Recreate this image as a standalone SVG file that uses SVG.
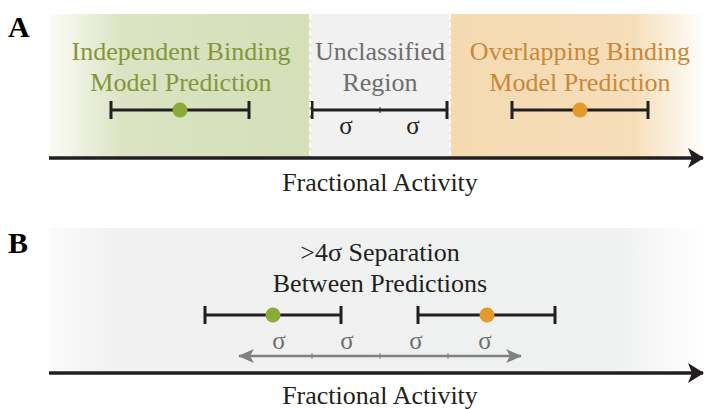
<svg xmlns="http://www.w3.org/2000/svg" width="705" height="409" viewBox="0 0 705 409">
<defs>
<linearGradient id="gGreen" x1="0" x2="1" y1="0" y2="0">
<stop offset="0" stop-color="#fbfcf6"/>
<stop offset="0.28" stop-color="#dbe3c3"/>
<stop offset="1" stop-color="#d5dfb8"/>
</linearGradient>
<linearGradient id="gOrange" x1="0" x2="1" y1="0" y2="0">
<stop offset="0" stop-color="#f5dab1"/>
<stop offset="0.72" stop-color="#f6deb9"/>
<stop offset="1" stop-color="#ffffff"/>
</linearGradient>
<linearGradient id="gGray" x1="0" x2="1" y1="0" y2="0">
<stop offset="0" stop-color="#fbfbfb"/>
<stop offset="0.1" stop-color="#f0f1f0"/>
<stop offset="0.86" stop-color="#eff1f0"/>
<stop offset="1" stop-color="#ffffff"/>
</linearGradient>
<marker id="axisHead" markerWidth="16" markerHeight="20" refX="15" refY="10" orient="auto" markerUnits="userSpaceOnUse">
<path d="M0,0 L16,10 L0,20 L4,10 Z" fill="#231f20"/>
</marker>
<marker id="grayHead" markerWidth="16" markerHeight="14" refX="15" refY="7" orient="auto-start-reverse" markerUnits="userSpaceOnUse">
<path d="M0,0 L16,7 L0,14 L4,7 Z" fill="#808080"/>
</marker>
</defs>
<style>
.lbl{font-family:"Liberation Serif","Times New Roman",serif;font-size:26px;text-anchor:middle}
.panel{font-family:"Liberation Serif","Times New Roman",serif;font-size:30px;font-weight:bold;fill:#000}
.bar{stroke:#231f20;stroke-width:3;fill:none}
.axis{stroke:#231f20;stroke-width:3.5;fill:none}
.sig{font-family:"Liberation Serif","Times New Roman",serif;font-size:25px;text-anchor:middle}
.divider{stroke:#ffffff;stroke-width:2;stroke-dasharray:5,3}
</style>

<g id="panelA">
<text class="panel" x="8" y="37">A</text>
<g id="regionIndependent">
<rect x="49" y="14" width="261" height="143" fill="url(#gGreen)"/>
<text class="lbl" x="181" y="60" fill="#85963a">Independent Binding</text>
<text class="lbl" x="181" y="91" fill="#85963a">Model Prediction</text>
<path class="bar" d="M111,110 H249 M111,101 V119 M249,101 V119"/>
<circle cx="180" cy="110" r="7.5" fill="#8aab3a"/>
</g>
<g id="regionUnclassified">
<rect x="310" y="14" width="140" height="143" fill="#f1f1f1"/>
<text class="lbl" x="380" y="60" fill="#6e6e6e">Unclassified</text>
<text class="lbl" x="380" y="91" fill="#6e6e6e">Region</text>
<path class="bar" d="M312,110 H447 M312,101 V119 M447,101 V119"/>
<path d="M380,107 V113" stroke="#231f20" stroke-width="1"/>
<text class="sig" x="346" y="134" fill="#231f20">σ</text>
<text class="sig" x="413" y="134" fill="#231f20">σ</text>
</g>
<g id="regionOverlapping">
<rect x="450" y="14" width="255" height="143" fill="url(#gOrange)"/>
<text class="lbl" x="580" y="60" fill="#c9883a">Overlapping Binding</text>
<text class="lbl" x="580" y="91" fill="#c9883a">Model Prediction</text>
<path class="bar" d="M512,110 H648 M512,101 V119 M648,101 V119"/>
<circle cx="580" cy="110" r="7.5" fill="#e49a2a"/>
</g>
<line class="divider" x1="310" y1="14" x2="310" y2="157"/>
<line class="divider" x1="450" y1="14" x2="450" y2="157"/>
</g>

<g id="panelB">
<text class="panel" x="8" y="253">B</text>
<rect x="49" y="228" width="656" height="144" fill="url(#gGray)"/>
<g id="separationLabel">
<text class="lbl" x="380" y="261" fill="#231f20">&gt;4σ Separation</text>
<text class="lbl" x="380" y="292" fill="#231f20">Between Predictions</text>
</g>
<g id="predGreen">
<path class="bar" d="M205,315 H341 M205,306 V324 M341,306 V324"/>
<circle cx="273" cy="315" r="7.5" fill="#8aab3a"/>
</g>
<g id="predOrange">
<path class="bar" d="M418,315 H555 M418,306 V324 M555,306 V324"/>
<circle cx="487" cy="315" r="7.5" fill="#e49a2a"/>
</g>
<g id="sigmaScale">
<line x1="239" y1="356" x2="521" y2="356" stroke="#808080" stroke-width="2.5" marker-start="url(#grayHead)" marker-end="url(#grayHead)"/>
<path d="M312,353 V359 M380,353 V359 M448,353 V359" stroke="#808080" stroke-width="1"/>
<text class="sig" x="279" y="349" fill="#6e6e6e">σ</text>
<text class="sig" x="347" y="349" fill="#6e6e6e">σ</text>
<text class="sig" x="416" y="349" fill="#6e6e6e">σ</text>
<text class="sig" x="485" y="349" fill="#6e6e6e">σ</text>
</g>
</g>

<g id="connectors">
<line class="axis" x1="49" y1="158" x2="703" y2="158" marker-end="url(#axisHead)"/>
<line class="axis" x1="49" y1="373" x2="703" y2="373" marker-end="url(#axisHead)"/>
</g>
<text class="lbl" x="380" y="191" fill="#231f20">Fractional Activity</text>
<text class="lbl" x="380" y="404" fill="#231f20">Fractional Activity</text>
</svg>
